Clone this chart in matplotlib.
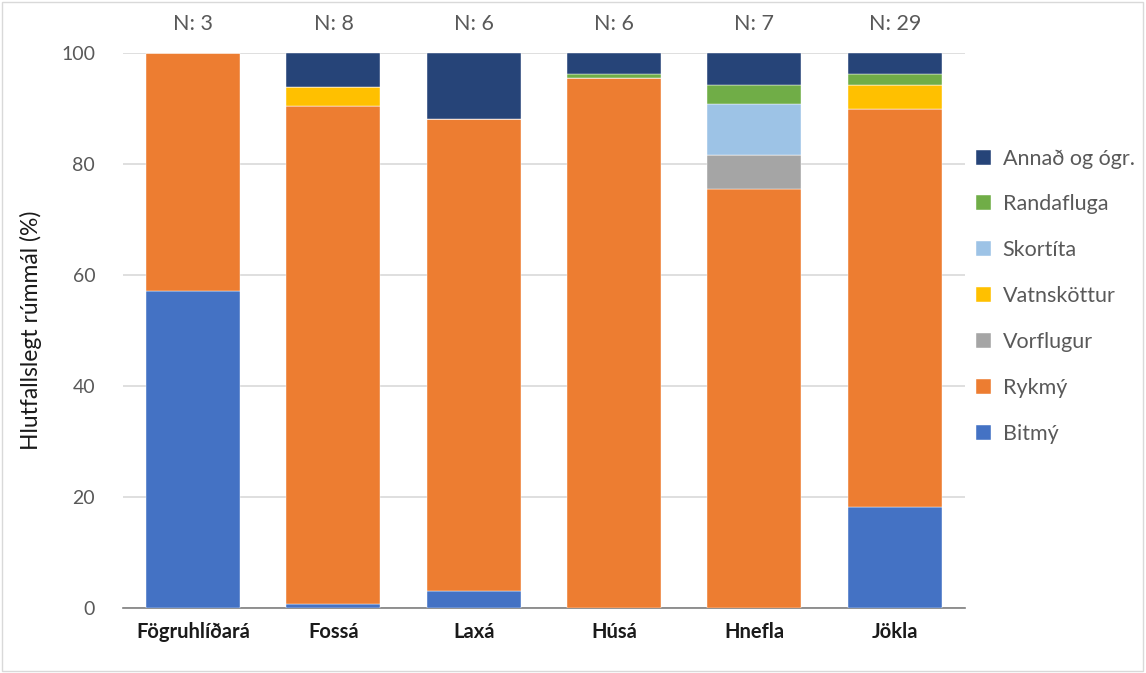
import matplotlib
matplotlib.use("Agg")
import matplotlib.pyplot as plt
from matplotlib.patches import Rectangle
import numpy as np

plt.rcParams['font.family'] = ['Lato', 'DejaVu Sans']

# rivers and sample counts
rivers = ['Fögruhlíðará', 'Fossá', 'Laxá', 'Húsá', 'Hnefla', 'Jökla']
n_samples = [3, 8, 6, 6, 7, 29]

# relative volume (%) per food group, bottom to top
bitmy = [57.1, 0.8, 3.0, 0.0, 0.0, 18.2]
rykmy = [42.9, 89.7, 85.2, 95.5, 75.5, 71.7]
vorflugur = [0.0, 0.0, 0.0, 0.0, 6.2, 0.0]
vatnskottur = [0.0, 3.3, 0.0, 0.0, 0.0, 4.4]
skortita = [0.0, 0.0, 0.0, 0.0, 9.2, 0.0]
randafluga = [0.0, 0.0, 0.0, 0.7, 3.3, 1.9]
annad = [0.0, 6.2, 11.8, 3.8, 5.8, 3.8]

series = [
    ('Bitmý', bitmy, '#4472C4'),
    ('Rykmý', rykmy, '#ED7D31'),
    ('Vorflugur', vorflugur, '#A5A5A5'),
    ('Vatnsköttur', vatnskottur, '#FFC000'),
    ('Skortíta', skortita, '#9DC3E6'),
    ('Randafluga', randafluga, '#70AD47'),
    ('Annað og ógr.', annad, '#264478'),
]

fig = plt.figure(figsize=(11.46, 6.73), dpi=100)
ax = fig.add_axes([0.1073, 0.0966, 0.7347, 0.8246])

x = np.arange(len(rivers))
bottom = np.zeros(len(rivers))
for name, vals, col in series:
    ax.bar(x, vals, bottom=bottom, width=0.67, color=col, label=name,
           edgecolor='white', linewidth=0.3, zorder=3)
    bottom += np.array(vals)

ax.set_xlim(-0.5, len(rivers) - 0.5)
ax.set_ylim(0, 100)
ax.set_yticks(range(0, 101, 20))
ax.grid(axis='y', color='#D9D9D9', linewidth=1.2, zorder=0)
ax.set_axisbelow(True)
for s in ['top', 'right', 'left']:
    ax.spines[s].set_visible(False)
ax.spines['bottom'].set_color('#7F7F7F')
ax.spines['bottom'].set_linewidth(1.2)
ax.tick_params(axis='both', length=0)
ax.tick_params(axis='y', labelsize=14, labelcolor='#595959', pad=20)
ax.set_xticks(x)
ax.set_xticklabels(rivers, fontsize=14.5, fontweight='bold', color='#1a1a1a')
ax.tick_params(axis='x', pad=10)
ax.set_ylabel('Hlutfallslegt rúmmál (%)', fontsize=16.5, color='#1a1a1a', labelpad=14)

for xi, n in zip(x, n_samples):
    ax.text(xi, 105.2, f'N: {n}', ha='center', va='center', fontsize=15.5,
            color='#595959', clip_on=False)

handles, labels = ax.get_legend_handles_labels()
leg = ax.legend(handles[::-1], labels[::-1], loc='center left',
                bbox_to_anchor=(0.995, 0.562), frameon=False, fontsize=15.5,
                labelcolor='#595959', handlelength=0.7, handleheight=0.7,
                handletextpad=0.55, labelspacing=1.2, borderaxespad=0.3)

# light border round the whole chart area
fig.patches.append(Rectangle((0.002, 0.003), 0.995, 0.994, transform=fig.transFigure,
                             fill=False, edgecolor='#D9D9D9', linewidth=1))

fig.savefig('out.png', dpi=100)
